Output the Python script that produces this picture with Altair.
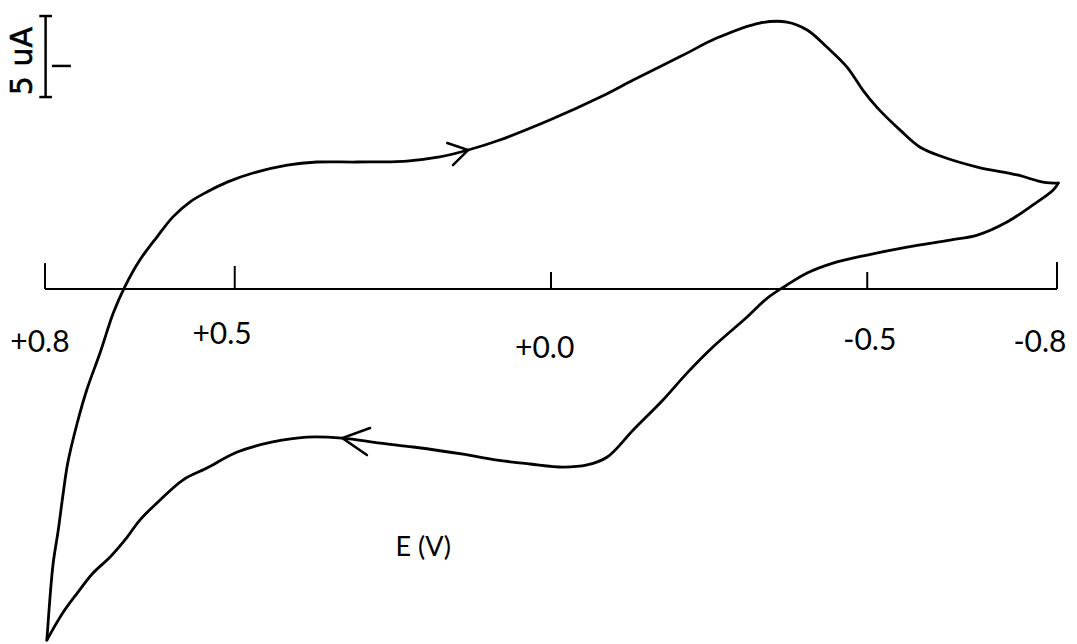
import altair as alt
import pandas as pd

# Forward scan: from +0.8 V switching point up and across to -0.8 V
upper_E = [0.797, 0.792, 0.787, 0.779, 0.772, 0.764, 0.749, 0.734, 0.713, 0.692,
           0.674, 0.650, 0.623, 0.598, 0.571, 0.544, 0.512, 0.471, 0.417, 0.370,
           0.307, 0.228, 0.176, 0.131, 0.081, 0.002, -0.078, -0.130, -0.209, -0.262,
           -0.330, -0.373, -0.405, -0.436, -0.468, -0.493, -0.515, -0.552, -0.583, -0.620,
           -0.674, -0.737, -0.778, -0.802]
upper_i = [-21.67, -19.01, -16.91, -14.88, -12.84, -10.74, -8.27, -6.23, -3.95, -1.48,
           0.12, 1.79, 3.21, 4.44, 5.37, 5.99, 6.60, 7.16, 7.65, 7.84,
           7.84, 7.90, 8.15, 8.58, 9.20, 10.43, 11.85, 12.90, 14.44, 15.49,
           16.42, 16.48, 15.99, 14.94, 13.70, 12.28, 11.23, 9.81, 8.77, 8.15,
           7.53, 7.04, 6.60, 6.54]

# Reverse scan: from -0.8 V back to +0.8 V
lower_E = [-0.802, -0.794, -0.762, -0.721, -0.674, -0.631, -0.563, -0.500, -0.446, -0.405,
           -0.373, -0.342, -0.310, -0.256, -0.215, -0.177, -0.130, -0.089, -0.057, -0.019,
           0.033, 0.085, 0.139, 0.218, 0.270, 0.330, 0.386, 0.440, 0.496, 0.544,
           0.582, 0.618, 0.650, 0.670, 0.697, 0.724, 0.749, 0.772, 0.797]
lower_i = [6.54, 6.11, 5.19, 4.14, 3.33, 3.02, 2.59, 2.10, 1.60, 0.99,
           0.25, -0.56, -1.73, -3.58, -5.19, -6.85, -8.70, -10.37, -10.86, -10.99,
           -10.80, -10.56, -10.19, -9.75, -9.51, -9.20, -9.14, -9.44, -10.06, -11.05,
           -11.79, -13.02, -14.26, -15.31, -16.54, -17.53, -18.77, -20.00, -21.67]

# Direction arrows (barb end, tip, barb end)
arrow_up_E = [0.164, 0.131, 0.155]
arrow_up_i = [9.01, 8.58, 7.65]
arrow_dn_E = [0.286, 0.330, 0.291]
arrow_dn_i = [-8.58, -9.20, -10.25]

# Potential axis
tick_E = [0.8, 0.5, 0.0, -0.5, -0.8]
tick_top = [1.6, 1.42, 1.05, 1.05, 1.67]
tick_labels = ["+0.8", "+0.5", "+0.0", "-0.5", "-0.8"]
label_E = [0.808, 0.520, 0.010, -0.504, -0.773]
label_i = [-3.33, -2.84, -3.70, -3.20, -3.33]

# Current scale bar (5 uA)
bar_E = 0.799
bar_i = [11.85, 16.85]
bar_mid_i = 13.77

x_scale = alt.Scale(domain=[-0.8316, 0.8711], reverse=True, nice=False, zero=False)
y_scale = alt.Scale(domain=[-21.91, 17.84], nice=False, zero=False)

rows = []
for k, (e, i) in enumerate(zip(upper_E, upper_i)):
    rows.append({"E": e, "I": i, "seg": "fwd", "ord": k})
for k, (e, i) in enumerate(zip(lower_E, lower_i)):
    rows.append({"E": e, "I": i, "seg": "rev", "ord": k})
curve_df = pd.DataFrame(rows)

arows = []
for k, (e, i) in enumerate(zip(arrow_up_E, arrow_up_i)):
    arows.append({"E": e, "I": i, "seg": "a1", "ord": k})
for k, (e, i) in enumerate(zip(arrow_dn_E, arrow_dn_i)):
    arows.append({"E": e, "I": i, "seg": "a2", "ord": k})
arrow_df = pd.DataFrame(arows)

X = alt.X("E:Q", scale=x_scale, axis=None)
Y = alt.Y("I:Q", scale=y_scale, axis=None)

curve = alt.Chart(curve_df).mark_line(
    color="black", strokeWidth=2.8, interpolate="catmull-rom", strokeCap="round", strokeJoin="round"
).encode(x=X, y=Y, detail="seg:N", order="ord:Q")

arrows = alt.Chart(arrow_df).mark_line(
    color="black", strokeWidth=2.5, strokeCap="round", strokeJoin="miter"
).encode(x=X, y=Y, detail="seg:N", order="ord:Q")

axis_df = pd.DataFrame({"E": [tick_E[0]], "E2": [tick_E[-1]], "I": [0.0]})
axis_line = alt.Chart(axis_df).mark_rule(color="black", strokeWidth=2).encode(
    x=X, x2="E2:Q", y=Y
)

ticks_df = pd.DataFrame({"E": tick_E, "I": [0.0] * len(tick_E), "top": tick_top})
ticks = alt.Chart(ticks_df).mark_rule(color="black", strokeWidth=2).encode(
    x=X, y=Y, y2="top:Q"
)

labels_df = pd.DataFrame({"E": label_E, "I": label_i, "t": tick_labels})
labels = alt.Chart(labels_df).mark_text(
    font="Lato", fontSize=30, color="black", align="center", baseline="middle"
).encode(x=X, y=Y, text="t:N")

title_df = pd.DataFrame({"E": [0.202], "I": [-15.99], "t": ["E (V)"]})
xtitle = alt.Chart(title_df).mark_text(
    font="Lato", fontSize=27, color="black", align="center", baseline="middle"
).encode(x=X, y=Y, text="t:N")

bar_df = pd.DataFrame({"E": [bar_E], "I": [bar_i[0]], "I2": [bar_i[1]]})
bar = alt.Chart(bar_df).mark_rule(color="black", strokeWidth=2.5).encode(
    x=X, y=Y, y2="I2:Q"
)
caps_df = pd.DataFrame({"E": [0.809, 0.809, 0.789], "E2": [0.789, 0.789, 0.759],
                        "I": [bar_i[0], bar_i[1], bar_mid_i]})
caps = alt.Chart(caps_df).mark_rule(color="black", strokeWidth=2.5).encode(
    x=X, x2="E2:Q", y=Y
)
unit_df = pd.DataFrame({"E": [0.835], "I": [14.07], "t": ["5 uA"]})
unit = alt.Chart(unit_df).mark_text(
    font="DejaVu Sans", fontSize=30, color="black", angle=270,
    align="center", baseline="middle", stroke="black", strokeWidth=0.6
).encode(x=X, y=Y, text="t:N")

chart = alt.layer(
    axis_line, ticks, curve, arrows, labels, xtitle, bar, caps, unit
).properties(
    width=1077, height=644,
    autosize=alt.AutoSizeParams(type="none"),
    padding=0,
    background="white",
).configure_view(stroke=None)

chart.save("out.html", embed_options={"renderer": "svg", "actions": False})
